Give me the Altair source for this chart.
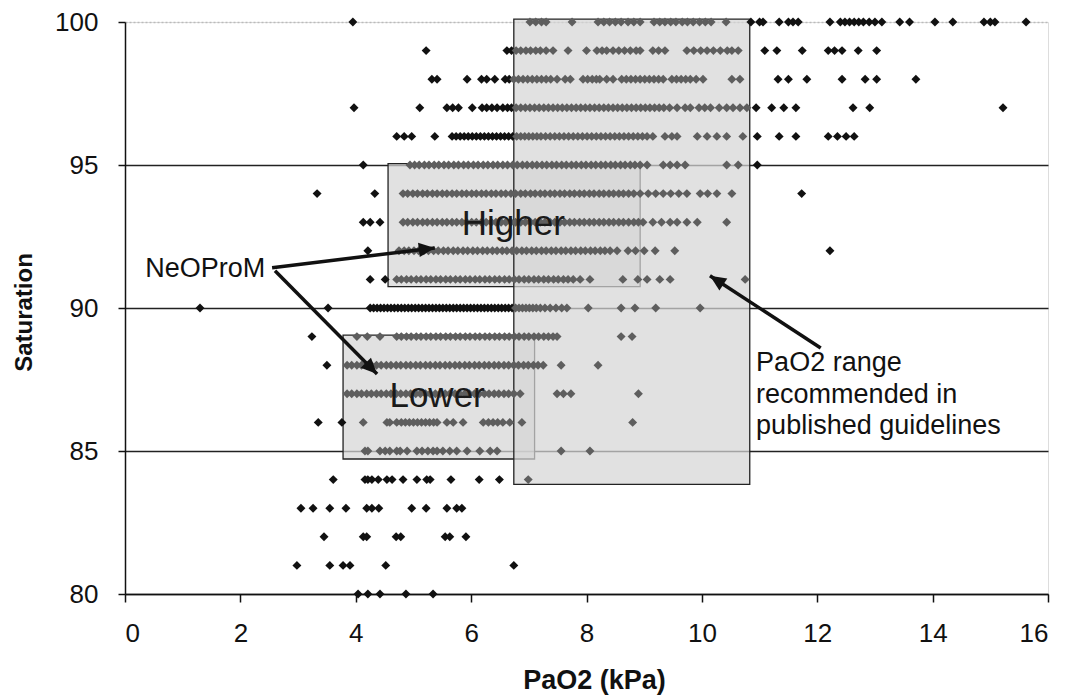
import math
import altair as alt
import pandas as pd

# ---------------- data ----------------
sat100 = [3.95, 7.02, 7.12, 7.22, 7.3, 7.75, 8.2, 8.3, 8.4, 8.5, 8.6, 8.72, 8.82, 8.93, 9.17, 9.27, 9.36,
          9.46, 9.55, 9.66, 9.75, 9.85, 9.96, 10.06, 10.16, 10.42, 10.85, 11.0, 11.06, 11.34, 11.5, 11.58,
          11.67, 12.22, 12.4, 12.48, 12.56, 12.64, 12.72, 12.8, 12.9, 13.0, 13.12, 13.43, 13.6, 14.04, 14.35,
          14.89, 15.0, 15.08, 15.62]
sat99 = [5.22, 6.62, 6.7, 6.78, 6.86, 6.95, 7.03, 7.12, 7.2, 7.3, 7.42, 7.68, 8.0, 8.18, 8.27, 8.35, 8.46,
         8.56, 8.66, 8.76, 8.86, 8.93, 9.15, 9.25, 9.36, 9.74, 9.86, 9.98, 10.09, 10.2, 10.32, 10.44, 10.52,
         10.63, 11.09, 11.3, 11.74, 12.19, 12.3, 12.43, 12.71, 13.03]
sat98 = [5.32, 5.41, 5.93, 6.18, 6.27, 6.41, 6.59, 6.66, 6.74, 6.82, 6.9, 6.98, 7.06, 7.14, 7.22, 7.3, 7.38,
         7.49, 7.63, 7.72, 7.94, 8.02, 8.1, 8.17, 8.23, 8.35, 8.46, 8.61, 8.69, 8.77, 8.85, 8.93, 9.01, 9.09,
         9.17, 9.25, 9.33, 9.48, 9.56, 9.64, 9.72, 9.8, 9.9, 10.02, 10.52, 10.66, 11.32, 11.5, 11.82, 12.43,
         12.83, 13.03, 13.71]
sat97 = [3.97, 5.11, 5.58, 5.68, 5.78, 6.02, 6.19, 6.27, 6.36, 6.45, 6.55, 6.63, 6.7, 6.78, 6.86, 6.94, 7.02,
         7.1, 7.18, 7.26, 7.34, 7.42, 7.5, 7.58, 7.66, 7.74, 7.82, 7.9, 7.98, 8.06, 8.14, 8.22, 8.3, 8.38, 8.46,
         8.54, 8.62, 8.7, 8.78, 8.86, 8.94, 9.02, 9.1, 9.18, 9.26, 9.34, 9.44, 9.57, 9.71, 9.8, 9.95, 10.05,
         10.15, 10.3, 10.43, 10.54, 10.66, 10.78, 10.94, 11.21, 11.42, 11.63, 12.62, 12.91, 15.22]
sat96 = [4.71, 4.84, 4.97, 5.37, 5.67, 5.74, 5.81, 5.88, 5.95, 6.02, 6.09, 6.16, 6.23, 6.3, 6.37, 6.44, 6.51,
         6.58, 6.65, 6.72, 6.79, 6.86, 6.93, 7.0, 7.07, 7.14, 7.21, 7.29, 7.37, 7.45, 7.53, 7.61, 7.69, 7.77,
         7.85, 7.93, 8.01, 8.09, 8.17, 8.25, 8.33, 8.41, 8.49, 8.57, 8.65, 8.73, 8.81, 8.89, 8.97, 9.05, 9.15,
         9.36, 9.48, 9.57, 9.92, 10.09, 10.26, 10.43, 10.71, 10.96, 11.34, 11.63, 12.19, 12.35, 12.5, 12.64]
sat95 = [4.13, 4.94, 5.02, 5.1, 5.19, 5.27, 5.36, 5.44, 5.53, 5.61, 5.7, 5.78, 5.87, 5.95, 6.04, 6.12, 6.21,
         6.29, 6.38, 6.46, 6.55, 6.63, 6.72, 6.8, 6.89, 6.97, 7.06, 7.14, 7.23, 7.31, 7.4, 7.48, 7.57, 7.65,
         7.74, 7.82, 7.91, 7.99, 8.08, 8.16, 8.25, 8.33, 8.42, 8.5, 8.59, 8.67, 8.76, 8.84, 8.93, 9.05, 9.33,
         9.45, 9.57, 9.71, 10.43, 10.63, 10.96]
sat94 = [3.33, 4.33, 4.82, 4.9, 4.99, 5.07, 5.16, 5.24, 5.33, 5.41, 5.5, 5.58, 5.67, 5.75, 5.84, 5.92, 6.01,
         6.09, 6.18, 6.26, 6.35, 6.43, 6.52, 6.6, 6.69, 6.77, 6.86, 6.94, 7.03, 7.11, 7.2, 7.28, 7.37, 7.45,
         7.54, 7.62, 7.71, 7.79, 7.88, 7.96, 8.05, 8.13, 8.22, 8.3, 8.39, 8.47, 8.56, 8.64, 8.73, 8.82, 8.93,
         9.07, 9.2, 9.33, 9.46, 9.6, 9.74, 9.97, 10.1, 10.26, 10.52, 11.73]
sat93 = [4.13, 4.25, 4.42, 4.82, 4.9, 4.99, 5.07, 5.16, 5.24, 5.33, 5.41, 5.5, 5.58, 5.67, 5.75, 5.84, 5.92,
         6.01, 6.09, 6.18, 6.26, 6.35, 6.43, 6.52, 6.6, 6.69, 6.77, 6.86, 6.94, 7.03, 7.11, 7.2, 7.28, 7.37,
         7.45, 7.54, 7.62, 7.71, 7.79, 7.88, 7.96, 8.05, 8.13, 8.22, 8.3, 8.39, 8.47, 8.56, 8.64, 8.73, 8.82,
         8.9, 8.98, 9.15, 9.3, 9.45, 9.57, 9.74, 9.92, 10.43]
sat92 = [4.21, 4.75, 4.84, 4.92, 5.01, 5.09, 5.18, 5.26, 5.35, 5.43, 5.52, 5.6, 5.69, 5.77, 5.86, 5.94, 6.03,
         6.11, 6.2, 6.28, 6.37, 6.45, 6.54, 6.62, 6.71, 6.79, 6.88, 6.96, 7.05, 7.13, 7.22, 7.3, 7.39, 7.47,
         7.56, 7.64, 7.73, 7.81, 7.9, 7.98, 8.07, 8.15, 8.24, 8.32, 8.41, 8.53, 8.72, 8.85, 9.0, 9.19, 9.53,
         12.22]
sat91 = [4.25, 4.51, 4.71, 4.79, 4.88, 4.96, 5.05, 5.13, 5.22, 5.3, 5.39, 5.47, 5.56, 5.64, 5.73, 5.81, 5.9,
         5.98, 6.07, 6.15, 6.24, 6.32, 6.41, 6.49, 6.58, 6.66, 6.75, 6.83, 6.92, 7.0, 7.09, 7.17, 7.26, 7.34,
         7.43, 7.51, 7.6, 7.68, 7.77, 7.89, 8.06, 8.63, 8.89, 9.05, 9.27, 9.45, 10.75]
sat90 = [1.3, 3.52, 4.25, 4.31, 4.37, 4.43, 4.49, 4.55, 4.61, 4.67, 4.73, 4.79, 4.85, 4.91, 4.97, 5.03, 5.09,
         5.15, 5.21, 5.27, 5.33, 5.39, 5.45, 5.51, 5.57, 5.63, 5.69, 5.75, 5.81, 5.87, 5.93, 5.99, 6.05, 6.11,
         6.17, 6.23, 6.29, 6.35, 6.41, 6.47, 6.53, 6.59, 6.65, 6.71, 6.77, 6.83, 6.89, 6.95, 7.01, 7.07, 7.13,
         7.2, 7.28, 7.37, 7.47, 7.57, 7.66, 8.03, 8.6, 8.84, 9.2, 9.97]
sat89 = [3.24, 4.02, 4.2, 4.42, 4.71, 4.79, 4.88, 4.96, 5.05, 5.13, 5.22, 5.3, 5.39, 5.47, 5.56, 5.64, 5.73,
         5.81, 5.9, 5.98, 6.07, 6.15, 6.24, 6.32, 6.41, 6.49, 6.58, 6.66, 6.75, 6.83, 6.92, 7.0, 7.09, 7.17,
         7.26, 7.34, 7.42, 7.49, 8.6, 8.79]
sat88 = [3.5, 3.85, 3.93, 4.02, 4.1, 4.19, 4.27, 4.36, 4.44, 4.53, 4.61, 4.7, 4.78, 4.87, 4.95, 5.04, 5.12,
         5.21, 5.29, 5.38, 5.46, 5.55, 5.63, 5.72, 5.8, 5.89, 5.97, 6.06, 6.14, 6.23, 6.31, 6.4, 6.48, 6.57,
         6.65, 6.74, 6.82, 6.91, 6.99, 7.08, 7.16, 7.25, 7.56, 8.2]
sat87 = [3.85, 3.93, 4.02, 4.1, 4.19, 4.27, 4.36, 4.44, 4.53, 4.61, 4.7, 4.78, 4.87, 4.95, 5.04, 5.12, 5.21,
         5.29, 5.38, 5.46, 5.55, 5.63, 5.72, 5.8, 5.89, 5.97, 6.06, 6.14, 6.23, 6.31, 6.4, 6.48, 6.57, 6.65,
         6.74, 6.85, 7.49, 7.6, 7.73, 8.9]
sat86 = [3.35, 3.76, 4.13, 4.54, 4.59, 4.71, 4.79, 4.86, 4.93, 5.0, 5.07, 5.14, 5.21, 5.28, 5.35, 5.41, 5.58,
         5.69, 5.86, 6.21, 6.3, 6.38, 6.46, 6.55, 6.67, 6.88, 8.8]
sat85 = [4.16, 4.21, 4.42, 4.51, 4.59, 4.71, 4.77, 4.89, 5.06, 5.15, 5.25, 5.34, 5.41, 5.51, 5.63, 5.75, 5.93,
         6.15, 6.33, 6.45, 7.56, 8.06]
sat84 = [3.61, 4.16, 4.21, 4.28, 4.39, 4.54, 4.63, 4.82, 5.06, 5.23, 5.29, 5.65, 6.14, 6.49, 6.99]
sat83 = [3.05, 3.26, 3.55, 3.83, 4.19, 4.28, 4.4, 4.97, 5.22, 5.58, 5.75, 5.84]
sat82 = [3.45, 4.13, 4.19, 4.7, 4.78, 5.55, 5.63, 5.91]
sat81 = [2.98, 3.55, 3.78, 3.9, 4.52, 6.74]
sat80 = [4.04, 4.21, 4.42, 4.87, 5.34]

sat_levels = [100, 99, 98, 97, 96, 95, 94, 93, 92, 91, 90, 89, 88, 87, 86, 85, 84, 83, 82, 81, 80]
sat_rows = [sat100, sat99, sat98, sat97, sat96, sat95, sat94, sat93, sat92, sat91, sat90,
            sat89, sat88, sat87, sat86, sat85, sat84, sat83, sat82, sat81, sat80]

box_names = ["Lower", "Higher", "Guidelines"]
box_x1 = [3.78, 4.56, 6.74]
box_x2 = [7.1, 8.93, 10.83]
box_y1 = [84.72, 90.75, 83.83]
box_y2 = [89.05, 95.05, 100.1]

big_labels = ["Higher", "Lower"]
big_label_x = [6.73, 5.41]
big_label_y = [92.92, 86.92]

neo_label = ["NeOProM"]
neo_x = [0.35]
neo_y = [91.37]

guide_lines = ["PaO2 range", "recommended in", "published guidelines"]
guide_x = [10.94, 10.94, 10.94]
guide_y = [88.08, 86.95, 85.86]

arrow_x1 = [2.55, 2.6, 12.06]
arrow_y1 = [91.41, 91.3, 88.6]
arrow_x2 = [5.37, 4.37, 10.14]
arrow_y2 = [92.1, 87.69, 91.13]

x_ticks = [0, 2, 4, 6, 8, 10, 12, 14, 16]
y_ticks = [80, 85, 90, 95, 100]

# ---------------- layout ----------------
W, H = 923, 572
FONT = "Liberation Sans"

points = pd.DataFrame([{"pao2": x, "sat": s} for s, row in zip(sat_levels, sat_rows) for x in row])
boxes = pd.DataFrame({"name": box_names, "x1": box_x1, "x2": box_x2, "y1": box_y1, "y2": box_y2})
bigs = pd.DataFrame({"t": big_labels, "x": big_label_x, "y": big_label_y})
neo = pd.DataFrame({"t": neo_label, "x": neo_x, "y": neo_y})
guide = pd.DataFrame({"t": guide_lines, "x": guide_x, "y": guide_y})

px_x = W / 16.0
px_y = H / 20.0
angles = [math.degrees(math.atan2(-(b2 - b1) * px_y, (a2 - a1) * px_x)) % 360
          for a1, b1, a2, b2 in zip(arrow_x1, arrow_y1, arrow_x2, arrow_y2)]
arrows = pd.DataFrame({"x1": arrow_x1, "y1": arrow_y1, "x2": arrow_x2, "y2": arrow_y2, "ang": angles})

# points lying inside any of the shaded boxes are seen through the hatch, so they look grey
inside_expr = " || ".join(
    f"(datum.pao2 >= {a} && datum.pao2 <= {b} && datum.sat >= {c} && datum.sat <= {d})"
    for a, b, c, d in zip(box_x1, box_x2, box_y1, box_y2))

xs = alt.Scale(domain=[0, 16], nice=False)
ys = alt.Scale(domain=[80, 100], nice=False)

x_axis = alt.Axis(values=x_ticks, format="d", title="PaO2 (kPa)", grid=False, domainColor="#111",
                  domainWidth=1.5, tickColor="#111", tickSize=8, tickWidth=1.5, labelFontSize=26,
                  labelFont=FONT, labelColor="#111", labelPadding=18, titleFont=FONT, titleFontSize=27,
                  titleFontWeight="bold", titleColor="#111", titleX=469, titleY=86, titleBaseline="middle",
                  titleAnchor="middle")
y_axis = alt.Axis(values=y_ticks, title="Saturation", grid=True,
                  gridColor=alt.condition("datum.value == 100", alt.value("#bbbbbb"), alt.value("#222222")),
                  gridDash=alt.condition("datum.value == 100", alt.value([2, 2]), alt.value([])),
                  gridWidth=1.5, domainColor="#111", domainWidth=1.5, tickColor="#111", tickSize=7,
                  tickWidth=1.5, labelFontSize=26, labelFont=FONT, labelColor="#111", labelPadding=20,
                  titleFont=FONT, titleFontSize=24, titleFontWeight="bold", titleColor="#111",
                  titleAngle=270, titleX=-101, titleY=290, titleBaseline="middle", titleAlign="center")

rects = alt.Chart(boxes).mark_rect(fill="#d6d6d6", fillOpacity=0.72, stroke="#222222",
                                   strokeWidth=1.3).encode(
    x=alt.X("x1:Q", scale=xs, axis=x_axis), x2="x2:Q", y=alt.Y("y1:Q", scale=ys, axis=y_axis), y2="y2:Q"
)

pts = alt.Chart(points).transform_calculate(inside=inside_expr).mark_point(
    shape="diamond", filled=True, size=80, opacity=1).encode(
    x=alt.X("pao2:Q", scale=xs),
    y=alt.Y("sat:Q", scale=ys),
    color=alt.condition("datum.inside", alt.value("#5e5e5e"), alt.value("#111111")),
)

big_text = alt.Chart(bigs).mark_text(font=FONT, fontSize=35, color="#1a1a1a", align="center",
                                     baseline="middle").encode(
    x=alt.X("x:Q", scale=xs), y=alt.Y("y:Q", scale=ys), text="t:N")

neo_text = alt.Chart(neo).mark_text(font=FONT, fontSize=27, color="#111", align="left",
                                    baseline="middle").encode(
    x=alt.X("x:Q", scale=xs), y=alt.Y("y:Q", scale=ys), text="t:N")

guide_text = alt.Chart(guide).mark_text(font=FONT, fontSize=27, color="#111", align="left",
                                        baseline="middle").encode(
    x=alt.X("x:Q", scale=xs), y=alt.Y("y:Q", scale=ys), text="t:N")

arrow_lines = alt.Chart(arrows).mark_rule(color="#111", strokeWidth=3.5).encode(
    x=alt.X("x1:Q", scale=xs), y=alt.Y("y1:Q", scale=ys), x2="x2:Q", y2="y2:Q")

arrow_heads = alt.Chart(arrows).mark_point(shape="M0,0L-2,-0.9L-2,0.9Z", filled=True, size=256,
                                           color="#111", opacity=1).encode(
    x=alt.X("x2:Q", scale=xs), y=alt.Y("y2:Q", scale=ys), angle=alt.Angle("ang:Q", scale=None))

chart = alt.layer(rects, pts, big_text, neo_text, guide_text, arrow_lines, arrow_heads).properties(
    width=W, height=H,
    autosize=alt.AutoSizeParams(type="none"),
    padding={"left": 117, "top": 14, "right": 14, "bottom": 105},
).configure_view(stroke="#aaaaaa", strokeWidth=1).configure(background="white")

chart.save("out.html", embed_options={"renderer": "svg", "actions": False})
